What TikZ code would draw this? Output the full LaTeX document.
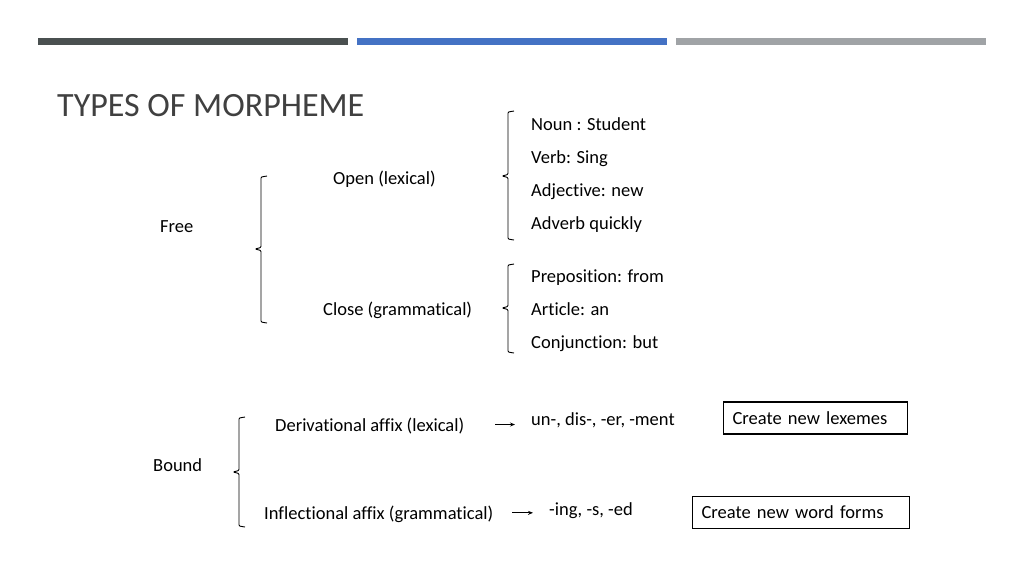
\documentclass[tikz,border=0pt]{standalone}
\usepackage{fontspec}
\setmainfont{Carlito}[Ligatures=NoCommon]
\usetikzlibrary{arrows.meta}

\definecolor{bardark}{HTML}{4A5050}
\definecolor{barblue}{HTML}{4472C4}
\definecolor{bargray}{HTML}{A0A3A6}
\definecolor{titlegray}{HTML}{404040}

% curly bracket: x, top, middle, bottom
\newcommand{\morphbrace}[4]{%
  \draw[line width=0.9pt, rounded corners=1pt]
    (#1+6,#2) -- (#1,#2+1) -- (#1,#3-1.5) -- (#1-6,#3)
    -- (#1,#3+1.5) -- (#1,#4-1) -- (#1+6,#4);}

\begin{document}
\begin{tikzpicture}[x=1pt, y=-1pt, inner sep=0pt,
            every node/.style={anchor=base west, font=\fontsize{18.5}{21}\selectfont},
            outcome/.style={draw, line width=1.2pt, anchor=west, text width=#1, align=left,
                            inner xsep=9pt, minimum height=32pt},
            arr/.style={-{Stealth[length=5pt, width=4pt]}, line width=0.9pt}]
            \useasboundingbox (0,0) rectangle (1024,576);
            \fill[bardark] (38,38) rectangle (348,45);
            \fill[barblue] (357,38) rectangle (667,45);
            \fill[bargray] (676,38) rectangle (986,45);

            \node[text=titlegray, font=\fontsize{34}{40}\selectfont](title) at (57,116) {TYPES OF MORPHEME};

            % free morphemes
            \node(free) at (160,232) {Free};
            \node(open) at (333,184) {Open (lexical)};
            \node(close) at (323,315) {Close (grammatical)};
            \node(noun) at (531,130) {Noun : Student};
            \node(verb) at (531,163) {Verb: Sing};
            \node(adj) at (531,196) {Adjective: new};
            \node(adv) at (531,229) {Adverb quickly};
            \node(prep) at (531,282) {Preposition: from};
            \node(art) at (531,315) {Article: an};
            \node(conj) at (531,348) {Conjunction: but};

            % bound morphemes
            \node(bound) at (153,471) {Bound};
            \node(deriv) at (275,431) {Derivational affix (lexical)};
            \node(infl) at (264,519) {Inflectional affix (grammatical)};
            \node(dmorph) at (531,425) {un-, dis-, -er, -ment};
            \node(imorph) at (549,515) {-ing, -s, -ed};
            \node[outcome=166pt](lexeme) at (723,418) {Create new lexemes};
            \node[outcome=199pt](forms) at (692,512.5) {Create new word forms};

            \morphbrace{261}{176}{249}{323}
            \morphbrace{508}{111}{176}{240}
            \morphbrace{508}{264}{308}{353}
            \morphbrace{239}{417}{472}{527}

            \begin{scope}[arr]
                \draw(deriv.east -| dmorph.west) ++(-36,-1) -- ++(20,0);
                \draw(infl.east -| imorph.west) ++(-37,-1) -- ++(21,0);
            \end{scope}
        \end{tikzpicture}
\end{document}
